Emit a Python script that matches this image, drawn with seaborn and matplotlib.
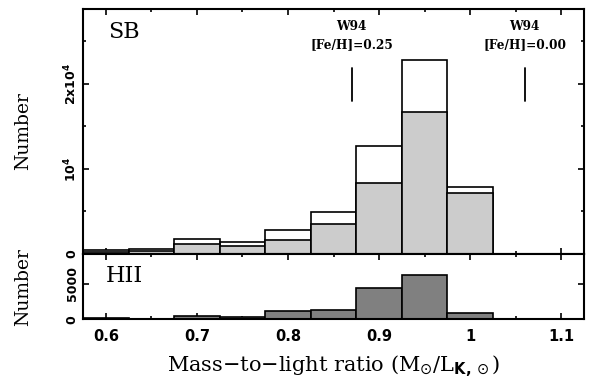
import numpy as np
import matplotlib
matplotlib.use("Agg")
import matplotlib.pyplot as plt
import seaborn as sns
from matplotlib.ticker import MultipleLocator, FixedLocator

# ---- data ----
bin_edges = [0.575, 0.625, 0.675, 0.725, 0.775, 0.825, 0.875, 0.925, 0.975, 1.025]
bin_centers = [0.60, 0.65, 0.70, 0.75, 0.80, 0.85, 0.90, 0.95, 1.00]
sb_total = [470, 620, 1800, 1450, 2860, 4900, 12700, 22800, 7920]
sb_subset = [280, 400, 1140, 980, 1610, 3550, 8390, 16700, 7210]
hii_counts = [200, 80, 520, 370, 1160, 1300, 4340, 6200, 840]
w94_x = [0.87, 1.06]
w94_labels = ["W94\n[Fe/H]=0.25", "W94\n[Fe/H]=0.00"]

sns.set_theme(style="ticks")
plt.rcParams.update({
    "font.family": ["DejaVu Sans"],
    "axes.linewidth": 1.5,
    "axes.edgecolor": "black",
    "axes.labelcolor": "black",
    "text.color": "black",
    "xtick.color": "black",
    "ytick.color": "black",
    "xtick.labelcolor": "black",
    "ytick.labelcolor": "black",
    "mathtext.fontset": "dejavusans",
})

fig = plt.figure(figsize=(5.92, 3.85), dpi=100)
ax1 = fig.add_axes([83/592, 1 - 254/385, 501/592, 245/385])
ax2 = fig.add_axes([83/592, 1 - 319.3/385, 501/592, 65.3/385], sharex=ax1)

lw = 1.2
sns.histplot(x=bin_centers, weights=sb_total, bins=bin_edges, color="white",
             edgecolor="black", linewidth=lw, alpha=1, ax=ax1)
sns.histplot(x=bin_centers, weights=sb_subset, bins=bin_edges, color="#cccccc",
             edgecolor="black", linewidth=lw, alpha=1, ax=ax1)
sns.histplot(x=bin_centers, weights=hii_counts, bins=bin_edges, color="#808080",
             edgecolor="black", linewidth=lw, alpha=1, ax=ax2)

ax1.set_xlim(0.575, 1.125)
ax1.set_ylim(0, 28800)
ax2.set_ylim(0, 9150)

xtick_font = dict(family="DejaVu Sans", weight="bold", size=10.5)
ytick_font = dict(family="DejaVu Sans", weight="bold", size=9)
for ax in (ax1, ax2):
    ax.xaxis.set_major_locator(MultipleLocator(0.1))
    ax.xaxis.set_minor_locator(MultipleLocator(0.05))
    ax.tick_params(axis="both", which="both", direction="in", top=True, right=True,
                   color="black", labelcolor="black")
    ax.tick_params(which="major", length=4.5, width=1.2)
    ax.tick_params(which="minor", length=2.5, width=1.2)
    for s in ax.spines.values():
        s.set_visible(True)
        s.set_linewidth(1.5)
    ax.set_xlabel("")
    ax.set_ylabel("")

ax1.tick_params(axis="x", labelbottom=False)
ax1.yaxis.set_major_locator(FixedLocator([0, 10000, 20000]))
ax1.yaxis.set_minor_locator(FixedLocator([5000, 15000, 25000]))
ax1.set_yticklabels(["0", r"10$^{\mathbf{4}}$", r"2x10$^{\mathbf{4}}$"],
                    rotation=90, va="center", **ytick_font)
ax1.tick_params(axis="y", pad=3)

ax2.yaxis.set_major_locator(FixedLocator([0, 5000]))
ax2.yaxis.set_minor_locator(FixedLocator([]))
ax2.set_yticklabels(["0", "5000"], rotation=90, va="center", **ytick_font)
ax2.tick_params(axis="y", pad=3)
ax2.set_xticks([0.6, 0.7, 0.8, 0.9, 1.0, 1.1])
ax2.set_xticklabels(["0.6", "0.7", "0.8", "0.9", "1", "1.1"], **xtick_font)
ax2.tick_params(axis="x", pad=7)

ax2.set_xlabel(r"Mass$-$to$-$light ratio (M$_{\odot}$/L$_{\mathbf{K,}\odot}$)",
               labelpad=7, family="DejaVu Serif", size=15)
ylab_font = dict(family="DejaVu Serif", size=13.5)
fig.text(23/592, 1 - 131/385, "Number", rotation=90, ha="center", va="center", **ylab_font)
fig.text(23/592, 1 - 287/385, "Number", rotation=90, ha="center", va="center", **ylab_font)

ax1.text(0.05, 0.906, "SB", transform=ax1.transAxes, ha="left", va="center",
         family="DejaVu Serif", size=16)
ax2.text(0.046, 0.67, "HII", transform=ax2.transAxes, ha="left", va="center",
         family="DejaVu Serif", size=16)

for xv, lab in zip(w94_x, w94_labels):
    ax1.plot([xv, xv], [18000, 21900], color="black", lw=1.3)
    ax1.text(xv, 25700, lab, ha="center", va="center", family="DejaVu Serif",
             weight="bold", size=8.7, linespacing=1.5)

fig.savefig("out.png", dpi=100, facecolor="white")
